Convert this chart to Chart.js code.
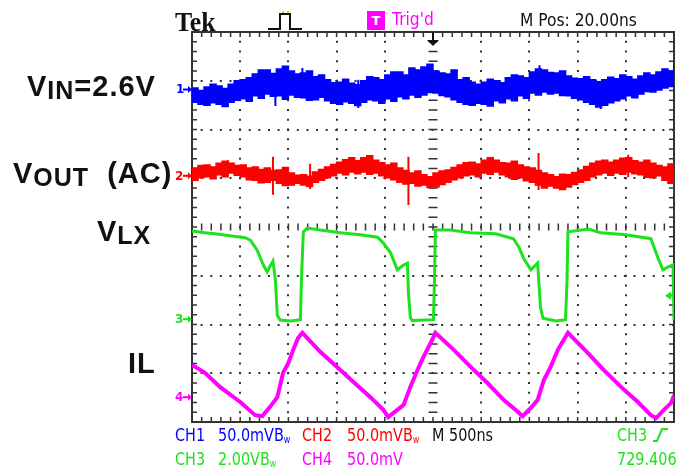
<!DOCTYPE html>
<html>
<head>
<meta charset="utf-8">
<script src="https://cdn.jsdelivr.net/npm/chart.js@4.4.1/dist/chart.umd.min.js"></script>
<style>
  html, body { margin: 0; padding: 0; background: #fff; overflow: hidden; }
  #wrap { position: relative; width: 676px; height: 473px; }
  #scope { position: absolute; left: 0; top: 0; }
  .lbl { position: absolute; white-space: nowrap; line-height: 1; }
  .big { font-family: "Liberation Sans", Arial, sans-serif; font-weight: bold; font-size: 29px; color: #111; letter-spacing: 1px; }
  .big .sb { font-size: 25px; position: relative; top: 3px; }
  .osc { font-family: "DejaVu Sans", sans-serif; font-size: 18px; transform-origin: 0 0; transform: scaleX(0.8); }
  .osc.hd { transform: scaleX(0.86); }
  .osc sub { font-size: 10px; vertical-align: baseline; position: relative; top: 2px; }
  .mark { font-family: "DejaVu Sans", sans-serif; font-size: 12px; font-weight: bold; }
</style>
</head>
<body>
<div id="wrap">
  <canvas id="scope" width="676" height="473"></canvas>

  <div class="lbl" style="left:175px;top:6px;font:bold 28px 'Liberation Serif',serif;color:#111;transform-origin:0 0;transform:scaleX(0.92);">Tek</div>
  <div class="lbl" style="left:367px;top:11px;width:18px;height:19px;background:#ff00ff;color:#fff;font:bold 13px 'DejaVu Sans',sans-serif;text-align:center;line-height:19px;">T</div>
  <div class="lbl osc hd" style="left:392px;top:10px;color:#ff00ff;">Trig'd</div>
  <div class="lbl osc hd" style="left:520px;top:11px;color:#111;">M Pos: 20.00ns</div>

  <div class="lbl big" style="left:27px;top:72px;">V<span class="sb">IN</span>=2.6V</div>
  <div class="lbl big" style="left:13px;top:159px;">V<span class="sb">OUT</span><span style="margin-left:18px">(AC)</span></div>
  <div class="lbl big" style="left:97px;top:217px;">V<span class="sb">LX</span></div>
  <div class="lbl big" style="left:128px;top:349px;">IL</div>

  <div class="lbl mark" style="left:176px;top:83px;color:#0000ff;">1</div>
  <div class="lbl mark" style="left:175px;top:170px;color:#ff0000;">2</div>
  <div class="lbl mark" style="left:175px;top:313px;color:#1de21d;">3</div>
  <div class="lbl mark" style="left:175px;top:391px;color:#ff00ff;">4</div>

  <div class="lbl osc" style="left:175px;top:426px;color:#0000ff;">CH1</div>
  <div class="lbl osc" style="left:218px;top:426px;color:#0000ff;">50.0mVB<sub>w</sub></div>
  <div class="lbl osc" style="left:302px;top:426px;color:#ff0000;">CH2</div>
  <div class="lbl osc" style="left:347px;top:426px;color:#ff0000;">50.0mVB<sub>w</sub></div>
  <div class="lbl osc" style="left:432px;top:426px;color:#111;">M 500ns</div>
  <div class="lbl osc" style="left:617px;top:426px;color:#1de21d;">CH3</div>

  <div class="lbl osc" style="left:175px;top:450px;color:#1de21d;">CH3</div>
  <div class="lbl osc" style="left:218px;top:450px;color:#1de21d;">2.00VB<sub>w</sub></div>
  <div class="lbl osc" style="left:302px;top:450px;color:#ff00ff;">CH4</div>
  <div class="lbl osc" style="left:347px;top:450px;color:#ff00ff;">50.0mV</div>
  <div class="lbl osc" style="left:617px;top:450px;color:#1de21d;">729.406</div>
</div>

<script>
// --- DATA (screen divisions: x 0..10 at 500ns/div, y 0..8) ---
const envT = [0, 0.125, 0.25, 0.375, 0.5, 0.625, 0.75, 0.875, 1, 1.125, 1.25, 1.375, 1.5, 1.625, 1.75, 1.875,
  2, 2.125, 2.25, 2.375, 2.5, 2.625, 2.75, 2.875, 3, 3.125, 3.25, 3.375, 3.5, 3.625, 3.75, 3.875,
  4, 4.125, 4.25, 4.375, 4.5, 4.625, 4.75, 4.875, 5, 5.125, 5.25, 5.375, 5.5, 5.625, 5.75, 5.875,
  6, 6.125, 6.25, 6.375, 6.5, 6.625, 6.75, 6.875, 7, 7.125, 7.25, 7.375, 7.5, 7.625, 7.75, 7.875,
  8, 8.125, 8.25, 8.375, 8.5, 8.625, 8.75, 8.875, 9, 9.125, 9.25, 9.375, 9.5, 9.625, 9.75, 9.875, 10];

// CH1 (VIN) noise band, upper and lower edge
const vinTop = [6.85, 6.80, 6.87, 6.93, 6.89, 6.84, 6.93, 7.00, 7.02, 7.06, 7.14, 7.22, 7.22, 7.15, 7.24, 7.30,
  7.20, 7.14, 7.16, 7.20, 7.08, 7.12, 7.02, 6.96, 6.97, 7.03, 6.95, 6.92, 7.00, 7.08, 7.06, 7.02,
  7.12, 7.18, 7.18, 7.12, 7.26, 7.22, 7.28, 7.34, 7.20, 7.16, 7.14, 7.22, 7.02, 7.06, 6.97, 6.93,
  6.97, 7.03, 7.00, 6.96, 7.06, 7.12, 7.10, 7.06, 7.18, 7.24, 7.22, 7.17, 7.16, 7.20, 7.10, 7.05,
  7.04, 7.08, 7.02, 6.98, 7.02, 7.07, 7.04, 7.12, 7.08, 7.03, 7.10, 7.16, 7.12, 7.18, 7.24, 7.20, 7.36];
const vinBottom = [6.56, 6.52, 6.50, 6.55, 6.52, 6.47, 6.56, 6.60, 6.63, 6.58, 6.69, 6.64, 6.73, 6.68, 6.69, 6.62,
  6.71, 6.66, 6.65, 6.60, 6.61, 6.66, 6.59, 6.54, 6.52, 6.57, 6.54, 6.49, 6.56, 6.61, 6.59, 6.54,
  6.63, 6.58, 6.67, 6.63, 6.71, 6.66, 6.71, 6.76, 6.75, 6.70, 6.67, 6.61, 6.56, 6.52, 6.50, 6.54,
  6.52, 6.48, 6.59, 6.55, 6.63, 6.59, 6.69, 6.64, 6.75, 6.71, 6.77, 6.73, 6.75, 6.70, 6.69, 6.64,
  6.61, 6.56, 6.52, 6.46, 6.50, 6.55, 6.59, 6.63, 6.69, 6.65, 6.73, 6.78, 6.77, 6.81, 6.85, 6.88, 6.93];
const vinSpikeT = [1.73, 2.29, 3.45, 7.21, 8.48];
const vinSpikeHi = [7.00, 7.26, 7.02, 7.32, 6.95];
const vinSpikeLo = [6.48, 6.80, 6.44, 6.95, 6.42];

// CH2 (VOUT, AC) noise band
const voutTop = [5.21, 5.26, 5.27, 5.23, 5.31, 5.35, 5.31, 5.26, 5.27, 5.21, 5.23, 5.18, 5.21, 5.16, 5.17, 5.22,
  5.11, 5.06, 5.07, 5.04, 5.13, 5.18, 5.23, 5.28, 5.33, 5.38, 5.42, 5.36, 5.42, 5.46, 5.37, 5.32,
  5.27, 5.31, 5.21, 5.16, 5.11, 5.15, 5.07, 5.03, 5.11, 5.15, 5.17, 5.22, 5.27, 5.32, 5.33, 5.29,
  5.37, 5.42, 5.37, 5.32, 5.31, 5.35, 5.27, 5.23, 5.21, 5.16, 5.11, 5.07, 5.03, 5.08, 5.07, 5.12,
  5.17, 5.24, 5.31, 5.35, 5.37, 5.33, 5.37, 5.41, 5.42, 5.36, 5.33, 5.37, 5.31, 5.26, 5.23, 5.29, 5.27];
const voutBottom = [4.96, 5.01, 5.03, 4.99, 5.07, 5.03, 5.11, 5.06, 5.03, 4.97, 4.96, 4.91, 4.92, 4.96, 4.90, 4.85,
  4.86, 4.90, 4.86, 4.83, 4.92, 4.96, 5.01, 5.05, 5.11, 5.07, 5.13, 5.09, 5.13, 5.08, 5.11, 5.05,
  5.01, 4.97, 4.92, 4.88, 4.90, 4.84, 4.86, 4.81, 4.82, 4.87, 4.92, 4.97, 5.01, 5.05, 5.07, 5.03,
  5.11, 5.08, 5.13, 5.07, 5.03, 4.98, 5.01, 4.95, 4.92, 4.86, 4.80, 4.84, 4.80, 4.77, 4.82, 4.87,
  4.92, 4.96, 5.03, 5.07, 5.11, 5.06, 5.11, 5.08, 5.13, 5.09, 5.07, 5.02, 5.01, 5.05, 4.96, 4.90, 4.70];
const voutSpikeT = [0.75, 1.68, 2.45, 4.49, 7.19, 9.05];
const voutSpikeHi = [5.37, 5.44, 5.30, 5.44, 5.52, 5.48];
const voutSpikeLo = [5.10, 4.66, 4.78, 4.45, 4.76, 5.02];

// CH3 (VLX) switch node
const vlxT = [0, 0.27, 0.48, 0.94, 1.10, 1.21, 1.35, 1.48, 1.56, 1.62, 1.68, 1.73, 1.77, 1.83, 2.04, 2.25, 2.27, 2.31, 2.39, 2.66,
  3.08, 3.49, 3.85, 3.97, 4.12, 4.26, 4.39, 4.47, 4.49, 4.53, 4.57, 5.01, 5.03, 5.05, 5.36, 5.78, 6.30, 6.67, 6.78, 6.88,
  7.03, 7.17, 7.19, 7.23, 7.28, 7.55, 7.75, 7.78, 7.80, 8.23, 8.48, 9.00, 9.52, 9.67, 9.77, 9.88, 9.98, 10.0];
const vlxV = [3.92, 3.88, 3.86, 3.80, 3.78, 3.73, 3.53, 3.22, 3.08, 3.20, 3.30, 2.91, 2.19, 2.09, 2.07, 2.10, 2.90, 3.90, 3.98, 3.94,
  3.88, 3.84, 3.79, 3.67, 3.47, 3.12, 3.22, 3.26, 2.65, 2.15, 2.08, 2.10, 2.90, 3.94, 3.94, 3.88, 3.86, 3.76, 3.59, 3.36,
  3.12, 3.26, 2.97, 2.36, 2.13, 2.07, 2.10, 2.90, 3.90, 3.96, 3.88, 3.84, 3.76, 3.36, 3.12, 3.18, 3.22, 2.09];

// CH4 (IL) inductor current
const ilT = [0, 0.27, 0.58, 1.00, 1.31, 1.46, 1.62, 1.77, 1.89, 2.00, 2.10, 2.20, 2.29, 2.66, 3.01, 3.35, 3.70, 3.97, 4.07, 4.26,
  4.39, 4.53, 4.68, 4.80, 4.95, 5.05, 5.43, 5.78, 6.13, 6.47, 6.76, 6.86, 7.03, 7.17, 7.30, 7.44, 7.59, 7.80, 8.21, 8.54,
  8.90, 9.25, 9.52, 9.63, 9.79, 9.94, 10.0];
const ilV = [1.17, 1.01, 0.72, 0.41, 0.14, 0.12, 0.31, 0.51, 1.01, 1.21, 1.48, 1.72, 1.83, 1.44, 1.13, 0.82, 0.51, 0.25, 0.10, 0.25,
  0.35, 0.72, 1.07, 1.33, 1.62, 1.83, 1.48, 1.13, 0.80, 0.45, 0.21, 0.12, 0.29, 0.45, 0.86, 1.13, 1.48, 1.83, 1.42, 1.07,
  0.72, 0.41, 0.14, 0.08, 0.25, 0.39, 0.55];

// channel ground markers (divisions) and trigger
const chLevels = [6.82, 5.05, 2.11, 0.51];
const chColors = ['#0000ff', '#ff0000', '#1de21d', '#ff00ff'];
const trigPos = 5;
const trigLevel = 2.59;

const BLUE = '#0000ff', RED = '#ff0000', GREEN = '#1de21d', MAGENTA = '#ff00ff';

// --- HELPERS ---
const pts = (t, v) => t.map((x, i) => ({ x: x, y: v[i] }));
function spikes(t, hi, lo) {
    const out = [];
    t.forEach((x, i) => { out.push({ x: x, y: hi[i] }, { x: x, y: lo[i] }, { x: x, y: null }); });
    return out;
}

// --- SCOPE GRATICULE (border ticks + centre crosshair) ---
const graticule = {
    id: 'graticule',
    beforeDatasetsDraw(chart) {
        const { ctx, chartArea: a, scales: { x, y } } = chart;
        ctx.save();
        ctx.fillStyle = '#333';
        const cy = y.getPixelForValue(4), cx = x.getPixelForValue(5);
        for (let i = 0; i <= 50; i++) {
            const px = x.getPixelForValue(i / 5);
            ctx.fillRect(px - 0.75, a.top, 1.5, 5);
            ctx.fillRect(px - 0.75, a.bottom - 5, 1.5, 5);
            ctx.fillRect(px - 0.75, cy - 3.5, 1.5, 7);
        }
        for (let j = 0; j <= 40; j++) {
            const py = y.getPixelForValue(j / 5);
            ctx.fillRect(a.left, py - 0.75, 5, 1.5);
            ctx.fillRect(a.right - 5, py - 0.75, 5, 1.5);
            ctx.fillRect(cx - 4.5, py - 0.75, 9, 1.5);
        }
        ctx.strokeStyle = '#333';
        ctx.lineWidth = 2;
        ctx.strokeRect(a.left, a.top, a.right - a.left, a.bottom - a.top);
        ctx.restore();
    },
    afterDraw(chart) {
        const { ctx, chartArea: a, scales: { x, y } } = chart;
        ctx.save();
        // trigger position arrow
        const tx = x.getPixelForValue(trigPos);
        ctx.fillStyle = '#111';
        ctx.fillRect(tx - 1, a.top, 2, 10);
        ctx.beginPath();
        ctx.moveTo(tx - 6, a.top + 8); ctx.lineTo(tx + 6, a.top + 8); ctx.lineTo(tx, a.top + 14);
        ctx.closePath(); ctx.fill();
        // trigger level arrow (CH3)
        const ty = y.getPixelForValue(trigLevel);
        ctx.fillStyle = GREEN;
        ctx.beginPath();
        ctx.moveTo(a.right - 9, ty); ctx.lineTo(a.right - 3, ty - 4); ctx.lineTo(a.right - 3, ty + 4);
        ctx.closePath(); ctx.fill();
        ctx.fillRect(a.right - 4, ty - 1, 4, 2);
        // channel ground arrows
        chLevels.forEach((lv, i) => {
            const py = y.getPixelForValue(lv);
            ctx.fillStyle = chColors[i];
            ctx.fillRect(a.left - 9, py - 1, 6, 2);
            ctx.beginPath();
            ctx.moveTo(a.left - 4, py - 3.5); ctx.lineTo(a.left, py); ctx.lineTo(a.left - 4, py + 3.5);
            ctx.closePath(); ctx.fill();
        });
        // header trigger type icon
        ctx.strokeStyle = '#111';
        ctx.lineWidth = 2;
        ctx.beginPath();
        ctx.moveTo(268, 29); ctx.lineTo(280, 29); ctx.lineTo(280, 14); ctx.lineTo(290, 14); ctx.lineTo(290, 29); ctx.lineTo(302, 29);
        ctx.stroke();
        ctx.fillStyle = '#e6c800';
        ctx.fillRect(282, 11, 2, 2); ctx.fillRect(287, 11, 2, 2);
        // footer edge icon
        ctx.strokeStyle = GREEN;
        ctx.beginPath();
        ctx.moveTo(653, 441); ctx.lineTo(657, 441); ctx.lineTo(662, 429); ctx.lineTo(668, 429);
        ctx.stroke();
        ctx.restore();
    }
};

// --- CHART ---
const band = (data, color, fill) => ({
    data: data, borderColor: color, backgroundColor: color, borderWidth: 1.5,
    pointRadius: 0, stepped: true, fill: fill
});

new Chart(document.getElementById('scope'), {
    type: 'line',
    data: {
        datasets: [
            { data: pts(ilT, ilV), borderColor: MAGENTA, borderWidth: 4, pointRadius: 0, tension: 0, fill: false },
            { data: pts(vlxT, vlxV), borderColor: GREEN, borderWidth: 3, pointRadius: 0, tension: 0, fill: false },
            { data: spikes(voutSpikeT, voutSpikeHi, voutSpikeLo), borderColor: RED, borderWidth: 2, pointRadius: 0, spanGaps: false, fill: false },
            band(pts(envT, voutTop), RED, '+1'),
            band(pts(envT, voutBottom), RED, false),
            { data: spikes(vinSpikeT, vinSpikeHi, vinSpikeLo), borderColor: BLUE, borderWidth: 2, pointRadius: 0, spanGaps: false, fill: false },
            band(pts(envT, vinTop), BLUE, '+1'),
            band(pts(envT, vinBottom), BLUE, false)
        ]
    },
    options: {
        responsive: false,
        animation: false,
        events: [],
        layout: { padding: { left: 192, top: 32, right: 2, bottom: 51 } },
        scales: {
            x: {
                type: 'linear', min: 0, max: 10,
                ticks: { stepSize: 1, display: false },
                grid: {
                    drawTicks: false, lineWidth: 2,
                    color: c => [0, 5, 10].includes(c.tick.value) ? 'rgba(0,0,0,0)' : '#333'
                },
                border: { display: false, dash: [2, 7.75], dashOffset: 1 }
            },
            y: {
                type: 'linear', min: 0, max: 8,
                ticks: { stepSize: 1, display: false },
                grid: {
                    drawTicks: false, lineWidth: 2,
                    color: c => [0, 4, 8].includes(c.tick.value) ? 'rgba(0,0,0,0)' : '#333'
                },
                border: { display: false, dash: [2, 7.62], dashOffset: 1 }
            }
        },
        plugins: { legend: { display: false }, tooltip: { enabled: false } }
    },
    plugins: [graticule]
});
</script>
</body>
</html>
